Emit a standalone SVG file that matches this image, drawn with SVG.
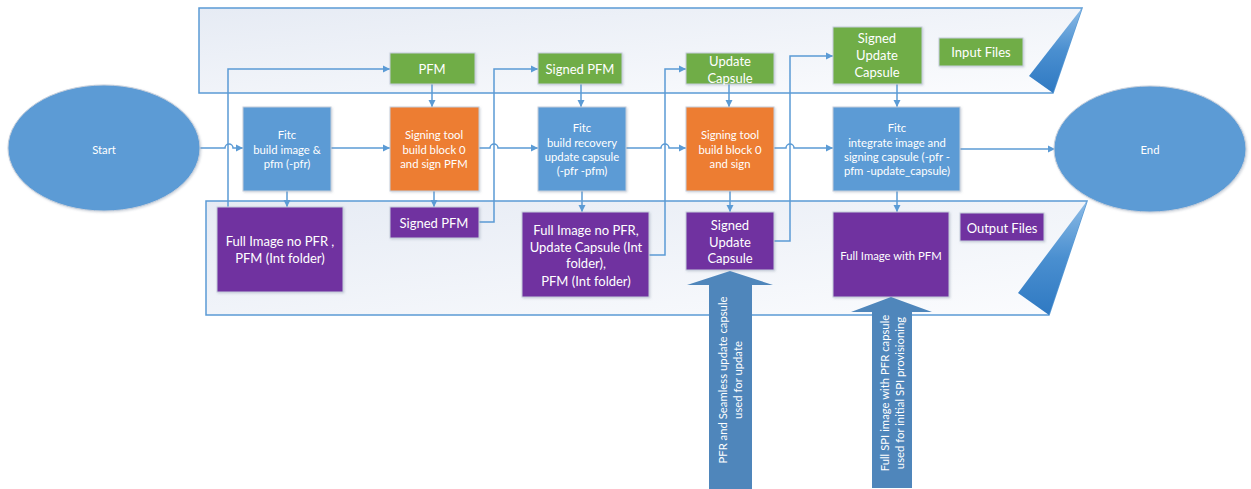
<svg xmlns="http://www.w3.org/2000/svg" width="1251" height="489" viewBox="0 0 1251 489">
<style>
text{font-family:Lato,"Open Sans","Liberation Sans",sans-serif;fill:#fff;text-anchor:middle;dominant-baseline:central}
.s{font-size:11.3px}
.l{font-size:13px}
.blue{fill:#5B9BD5;stroke:#c5cedb;stroke-width:1;filter:url(#sh)}
.orange{fill:#ED7D31;stroke:#c5cedb;stroke-width:1;filter:url(#sh)}
.green{fill:#70AD47;stroke:#c5cedb;stroke-width:1;filter:url(#sh)}
.purple{fill:#7030A0;stroke:#c5cedb;stroke-width:1;filter:url(#sh)}
.conn{fill:none;stroke:#5B9BD5;stroke-width:1.5}
.panel{fill:url(#pg);stroke:#5B9BD5;stroke-width:1.5}
.tri{fill:url(#tg)}
.barrow{fill:#4F86BB}
</style>
<defs>
<filter id="sh" x="-10%" y="-10%" width="130%" height="130%">
<feDropShadow dx="1" dy="1" stdDeviation="1" flood-color="#7f8ea3" flood-opacity="0.35"/>
</filter>
<linearGradient id="pg" x1="0" y1="0" x2="1" y2="1">
<stop offset="0" stop-color="#e6ebf4"/>
<stop offset="1" stop-color="#fbfcfe"/>
</linearGradient>
<linearGradient id="tg" x1="0" y1="0" x2="0" y2="1">
<stop offset="0" stop-color="#8cbbe6"/>
<stop offset="0.5" stop-color="#4a8fd0"/>
<stop offset="1" stop-color="#2f79c2"/>
</linearGradient>
<marker id="ah" viewBox="0 0 10 10" refX="10" refY="5" markerWidth="5" markerHeight="5" orient="auto" markerUnits="strokeWidth">
<path d="M0,0 L10,5 L0,10 Z" fill="#5B9BD5"/>
</marker>
</defs>

<g id="panels">
<path class="panel" d="M199,8 H1082 L1053,93 H199 Z"/>
<polygon class="tri" points="1082,8 1053,93 1029,76"/>
<path class="panel" d="M206,201 H1087 L1049,315 H206 Z"/>
<polygon class="tri" points="1087,201 1049,315 1018,293"/>
</g>

<g id="connectors">
<path class="conn" d="M199,148 H225 A4,4 0 0 1 233,148 H243" marker-end="url(#ah)"/>
<path class="conn" d="M331,148 H390" marker-end="url(#ah)"/>
<path class="conn" d="M479,148 H490 A4,4 0 0 1 498,148 H538" marker-end="url(#ah)"/>
<path class="conn" d="M626,148 H661 A4,4 0 0 1 669,148 H686" marker-end="url(#ah)"/>
<path class="conn" d="M774,148 H786 A4,4 0 0 1 794,148 H833" marker-end="url(#ah)"/>
<path class="conn" d="M960,149 H1055" marker-end="url(#ah)"/>
<path class="conn" d="M228,207 V69 H390" marker-end="url(#ah)"/>
<path class="conn" d="M479,222 H494 V69 H538" marker-end="url(#ah)"/>
<path class="conn" d="M649,255 H665 V69 H686" marker-end="url(#ah)"/>
<path class="conn" d="M774,241 H790 V56 H833" marker-end="url(#ah)"/>
<path class="conn" d="M432,84 V107" marker-end="url(#ah)"/>
<path class="conn" d="M581,84 V107" marker-end="url(#ah)"/>
<path class="conn" d="M729,84 V107" marker-end="url(#ah)"/>
<path class="conn" d="M897,84 V107" marker-end="url(#ah)"/>
<path class="conn" d="M287,191 V207" marker-end="url(#ah)"/>
<path class="conn" d="M434,191 V207" marker-end="url(#ah)"/>
<path class="conn" d="M582,191 V212" marker-end="url(#ah)"/>
<path class="conn" d="M730,191 V212" marker-end="url(#ah)"/>
<path class="conn" d="M897,191 V212" marker-end="url(#ah)"/>
</g>

<g id="start">
<ellipse cx="104" cy="148" rx="96" ry="63" fill="#5B9BD5" stroke="#c5cedb" stroke-width="1" filter="url(#sh)"/>
<text class="s" x="104" y="149">Start</text>
</g>
<g id="end">
<ellipse cx="1150" cy="149" rx="96" ry="63" fill="#5B9BD5" stroke="#c5cedb" stroke-width="1" filter="url(#sh)"/>
<text class="s" x="1150" y="149">End</text>
</g>

<g id="fitc1">
<rect class="blue" x="243" y="107" width="88" height="84"/>
<text class="s" x="287" y="134">Fitc</text>
<text class="s" x="287" y="149">build image &amp;</text>
<text class="s" x="287" y="163">pfm (-pfr)</text>
</g>
<g id="full-image-1">
<rect class="purple" x="217" y="207" width="126" height="85"/>
<text class="l" x="280" y="241">Full Image no PFR ,</text>
<text class="l" x="280" y="258">PFM (Int folder)</text>
</g>
<g id="pfm">
<rect class="green" x="390" y="53" width="85" height="31"/>
<text class="l" x="432" y="69">PFM</text>
</g>
<g id="signing1">
<rect class="orange" x="390" y="107" width="89" height="84"/>
<text class="s" x="434" y="134">Signing tool</text>
<text class="s" x="434" y="149">build block 0</text>
<text class="s" x="434" y="163">and sign PFM</text>
</g>
<g id="signed-pfm-out">
<rect class="purple" x="390" y="207" width="89" height="31"/>
<text class="l" x="434" y="223">Signed PFM</text>
</g>
<g id="signed-pfm-in">
<rect class="green" x="538" y="53" width="84" height="31"/>
<text class="l" x="580" y="69">Signed PFM</text>
</g>
<g id="fitc2">
<rect class="blue" x="538" y="107" width="88" height="84"/>
<text class="s" x="582" y="127">Fitc</text>
<text class="s" x="582" y="142">build recovery</text>
<text class="s" x="582" y="156">update capsule</text>
<text class="s" x="582" y="170">(-pfr -pfm)</text>
</g>
<g id="full-image-2">
<rect class="purple" x="522" y="212" width="127" height="85"/>
<text class="l" x="586" y="230">Full Image no PFR,</text>
<text class="l" x="586" y="247">Update Capsule (Int</text>
<text class="l" x="586" y="263">folder),</text>
<text class="l" x="586" y="281">PFM (Int folder)</text>
</g>
<g id="update-capsule">
<rect class="green" x="686" y="53" width="88" height="31"/>
<text class="l" x="730" y="61">Update</text>
<text class="l" x="730" y="78">Capsule</text>
</g>
<g id="signing2">
<rect class="orange" x="686" y="107" width="88" height="84"/>
<text class="s" x="730" y="134">Signing tool</text>
<text class="s" x="730" y="149">build block 0</text>
<text class="s" x="730" y="163">and sign</text>
</g>
<g id="signed-update-capsule-out">
<rect class="purple" x="686" y="212" width="88" height="58"/>
<text class="l" x="730" y="225">Signed</text>
<text class="l" x="730" y="242">Update</text>
<text class="l" x="730" y="258">Capsule</text>
</g>
<g id="signed-update-capsule-in">
<rect class="green" x="833" y="27" width="89" height="57"/>
<text class="l" x="877" y="38">Signed</text>
<text class="l" x="877" y="55">Update</text>
<text class="l" x="877" y="72">Capsule</text>
</g>
<g id="fitc3">
<rect class="blue" x="833" y="107" width="127" height="84"/>
<text class="s" x="897" y="127">Fitc</text>
<text class="s" x="897" y="142">integrate image and</text>
<text class="s" x="897" y="156">signing capsule (-pfr -</text>
<text class="s" x="897" y="170">pfm -update_capsule)</text>
</g>
<g id="full-image-pfm">
<rect class="purple" x="833" y="212" width="116" height="85"/>
<text class="s" x="891" y="255">Full Image with PFM</text>
</g>
<g id="input-files">
<rect class="green" x="939" y="38" width="84" height="28"/>
<text class="l" x="981" y="52">Input Files</text>
</g>
<g id="output-files">
<rect class="purple" x="960" y="213" width="84" height="28"/>
<text class="l" x="1002" y="228">Output Files</text>
</g>

<g id="update-arrow">
<polygon class="barrow" points="730,271 773,285 752,285 752,489 709,489 709,285 687,285"/>
<g transform="translate(730,380) rotate(-90)">
<text class="s" x="0" y="-7.5">PFR and Seamless update capsule</text>
<text class="s" x="0" y="7.5">used for update</text>
</g>
</g>
<g id="provision-arrow">
<polygon class="barrow" points="891,297 932,312 912,312 912,488 872,488 872,312 851,312"/>
<g transform="translate(892,393) rotate(-90)">
<text class="s" x="0" y="-7.5">Full SPI image with PFR capsule</text>
<text class="s" x="0" y="7.5">used for initial SPI provisioning</text>
</g>
</g>
</svg>
